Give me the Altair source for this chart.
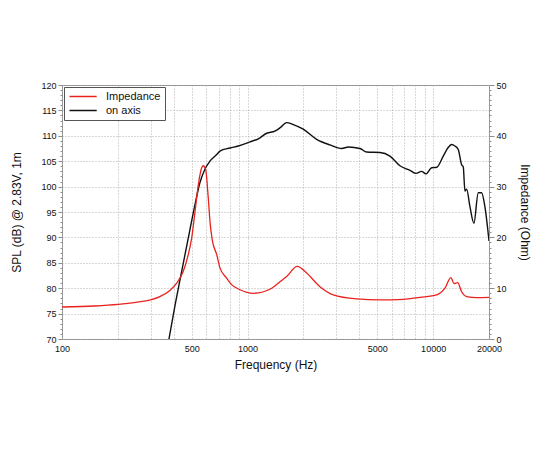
import altair as alt
import pandas as pd

# SPL on axis (dB @ 2.83V, 1m)
spl_freq = [377, 407, 432, 460, 489, 521, 553, 589, 627, 682, 710, 804, 891, 1030, 1143,
            1268, 1404, 1500, 1624, 1764, 1996, 2357, 2780, 3214, 3488, 4032, 4382, 5169,
            5848, 6622, 7500, 8078, 8670, 9141, 9814, 10446, 11337, 12000, 12586, 13100,
            13656, 14242, 14530, 14838, 15153, 15780, 16590, 17500, 18250, 19000, 20000]
spl_db = [70.0, 76.7, 81.6, 86.6, 91.5, 96.5, 100.7, 103.4, 105.0, 106.3, 107.0, 107.6, 108.0,
          108.8, 109.4, 110.5, 110.9, 111.6, 112.6, 112.2, 111.3, 109.3, 108.2, 107.5, 107.8,
          107.5, 106.8, 106.7, 106.0, 104.1, 103.2, 102.6, 103.0, 102.5, 103.7, 103.8, 106.0,
          107.6, 108.3, 108.0, 107.3, 104.3, 103.9, 99.1, 99.5, 96.1, 92.8, 98.8, 98.8, 96.1, 89.3]

# Impedance (Ohm)
imp_freq = [100, 150, 200, 250, 300, 337, 380, 415, 450, 479, 500, 521, 543, 566, 577, 594,
            614, 627, 645, 682, 710, 771, 820, 910, 1074, 1349, 1500, 1624, 1853, 2081, 2455,
            2896, 3872, 5169, 6900, 8490, 10446, 11577, 12470, 12950, 13550, 14242, 15153,
            17140, 20000]
imp_ohm = [6.3, 6.5, 6.8, 7.2, 7.7, 8.35, 9.5, 11.0, 13.3, 16.6, 19.9, 25.1, 30.4, 33.7, 34.1,
           33.4, 27.8, 23.2, 19.5, 16.6, 14.0, 12.0, 10.7, 9.7, 9.0, 10.0, 11.3, 12.3, 14.3,
           13.0, 10.3, 8.7, 7.9, 7.7, 7.8, 8.2, 8.7, 10.0, 12.1, 10.9, 11.1, 9.3, 8.35, 8.15, 8.2]

series_names = ["Impedance", "on axis"]
series_colors = ["#e8231f", "#111111"]

x_grid_values = [100, 200, 300, 400, 500, 600, 700, 800, 900,
                 1000, 2000, 3000, 4000, 5000, 6000, 7000, 8000, 9000,
                 10000, 20000]
x_label_values = [100, 500, 1000, 5000, 10000, 20000]
spl_ticks = list(range(70, 121))
imp_ticks = list(range(0, 51))

df_spl = pd.DataFrame({"freq": spl_freq, "value": spl_db, "series": series_names[1]})
df_imp = pd.DataFrame({"freq": imp_freq, "value": imp_ohm, "series": series_names[0]})

FONT = "Liberation Sans"
label_list = "[" + ",".join(str(v) for v in x_label_values) + "]"

x_enc = alt.X(
    "freq:Q",
    scale=alt.Scale(type="log", domain=[100, 20000], nice=False),
    axis=alt.Axis(
        values=x_grid_values,
        format="d",
        labelExpr=f"indexof({label_list}, datum.value) >= 0 ? datum.label : ''",
        labelOverlap=False,
        labelFlush=False,
        grid=True,
        gridDash=[1, 2],
        gridColor="#b0b0b0",
        gridWidth=1,
        tickSize=0,
        domain=False,
        labelPadding=5,
        title="Frequency (Hz)",
        titlePadding=6,
    ),
)

color_enc = alt.Color(
    "series:N",
    scale=alt.Scale(domain=series_names, range=series_colors),
    legend=alt.Legend(
        title=None,
        orient="top-left",
        offset=2,
        strokeColor="#555555",
        fillColor="white",
        padding=4,
        symbolType="M-1,0H5.8",
        symbolSize=64,
        symbolStrokeWidth=1.5,
        labelOffset=27,
        labelFontSize=11,
        labelFont=FONT,
        labelColor="#111111",
        rowPadding=2,
        labelExpr="datum.label + '      '",
    ),
)

spl = alt.Chart(df_spl).mark_line(strokeWidth=1.4, interpolate="monotone", clip=True).encode(
    x=x_enc,
    y=alt.Y(
        "value:Q",
        scale=alt.Scale(domain=[70, 120], nice=False, zero=False),
        axis=alt.Axis(
            values=spl_ticks,
            labelExpr="datum.value % 5 === 0 ? datum.label : ''",
            labelOverlap=False,
            tickSize={"condition": {"test": "datum.value % 5 === 0", "value": 4}, "value": 2},
            grid=True,
            gridDash=[1, 2],
            gridColor="#b0b0b0",
            gridOpacity={"condition": {"test": "datum.value % 5 === 0", "value": 1}, "value": 0},
            domain=False,
            labelPadding=2,
            title="SPL (dB) @ 2.83V, 1m",
            titlePadding=17,
        ),
    ),
    color=color_enc,
)

imp = alt.Chart(df_imp).mark_line(strokeWidth=1.3, interpolate="monotone", clip=True).encode(
    x=x_enc,
    y=alt.Y(
        "value:Q",
        scale=alt.Scale(domain=[0, 50], nice=False),
        axis=alt.Axis(
            orient="right",
            values=imp_ticks,
            labelExpr="datum.value % 10 === 0 ? datum.label : ''",
            labelOverlap=False,
            tickSize={"condition": {"test": "datum.value % 10 === 0", "value": 5}, "value": 2},
            grid=False,
            domain=False,
            labelPadding=2,
            title="Impedance (Ohm)",
            titlePadding=11,
        ),
    ),
    color=color_enc,
)

chart = (
    alt.layer(spl, imp)
    .resolve_scale(y="independent")
    .properties(
        width=427,
        height=254,
        autosize=alt.AutoSizeParams(type="none"),
        padding={"left": 54, "top": 77, "right": 53, "bottom": 103},
        background="white",
    )
    .configure_view(stroke="#8c8c8c", strokeWidth=1)
    .configure_axis(
        labelFont=FONT,
        labelFontSize=9,
        labelColor="#111111",
        titleFont=FONT,
        titleFontSize=12,
        titleFontWeight="normal",
        titleColor="#111111",
        tickColor="#8c8c8c",
    )
)

chart.save("out.html", embed_options={"renderer": "svg", "actions": False})
